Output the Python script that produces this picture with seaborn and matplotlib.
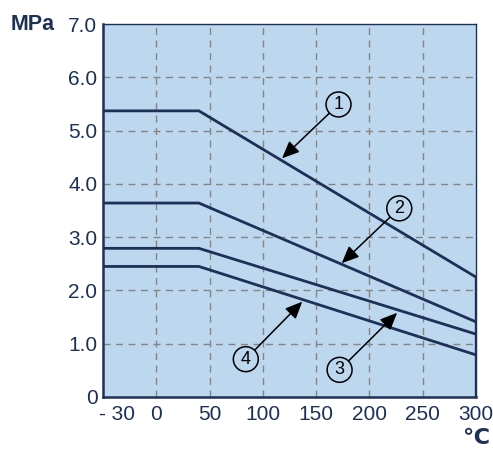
import matplotlib
matplotlib.use("Agg")
import matplotlib.pyplot as plt
import seaborn as sns
import pandas as pd

# data (temperature in deg C, pressure in MPa)
temps = [-50, 40, 300]
curve1 = [5.37, 5.37, 2.25]
curve2 = [3.64, 3.64, 1.41]
curve3 = [2.79, 2.79, 1.18]
curve4 = [2.45, 2.45, 0.79]
curve_names = ["1", "2", "3", "4"]

xtick_pos = [-37, 0, 50, 100, 150, 200, 250, 300]
xtick_labels = ["- 30", "0", "50", "100", "150", "200", "250", "300"]
ytick_pos = [0, 1, 2, 3, 4, 5, 6, 7]
ytick_labels = ["0", "1.0", "2.0", "3.0", "4.0", "5.0", "6.0", "7.0"]
xgrid = [0, 50, 100, 150, 200, 250]
ygrid = [1, 2, 3, 4, 5, 6]

# annotation: label, circle position, arrow tip
ann_labels = ["1", "2", "3", "4"]
ann_text_x = [171, 228, 172, 84]
ann_text_y = [5.49, 3.54, 0.51, 0.71]
ann_tip_x = [118, 174, 226, 137]
ann_tip_y = [4.48, 2.51, 1.58, 1.79]

sns.set_style("white")
plt.rcParams["font.family"] = ["Liberation Sans", "DejaVu Sans"]

navy = "#1D3057"
bg = "#BDD7EE"

rows = []
for name, vals in zip(curve_names, [curve1, curve2, curve3, curve4]):
    for t, v in zip(temps, vals):
        rows.append({"T": t, "P": v, "curve": name})
df = pd.DataFrame(rows)

fig = plt.figure(figsize=(4.93, 4.49), dpi=100)
ax = fig.add_axes([103 / 493, 1 - 397 / 449, 373 / 493, 373 / 449])
ax.set_facecolor(bg)

for y in ygrid:
    ax.axhline(y, color="#858585", lw=1.0, ls=(0, (5, 4)), zorder=1)
for x in xgrid:
    ax.axvline(x, color="#858585", lw=1.0, ls=(0, (5, 4)), zorder=1)

sns.lineplot(data=df, x="T", y="P", units="curve", estimator=None,
             color=navy, lw=2.0, ax=ax, zorder=3, legend=False)
# right end closure
ax.plot([temps[-1], temps[-1]], [0, curve1[-1]], color=navy, lw=2.4, zorder=3,
        solid_capstyle="butt")

ax.set_xlim(-50, 300)
ax.set_ylim(0, 7)
ax.set_xticks(xtick_pos)
ax.set_xticklabels(xtick_labels)
ax.set_yticks(ytick_pos)
ax.set_yticklabels(ytick_labels)
ax.tick_params(length=0, labelsize=15, labelcolor=navy, pad=4)
ax.tick_params(axis="x", pad=6)
ax.set_xlabel("")
ax.set_ylabel("")

for side in ["left", "bottom"]:
    ax.spines[side].set_color(navy)
    ax.spines[side].set_linewidth(1.8)
for side in ["top", "right"]:
    ax.spines[side].set_color(navy)
    ax.spines[side].set_linewidth(1.0)

for lab, tx, ty, px, py in zip(ann_labels, ann_text_x, ann_text_y, ann_tip_x, ann_tip_y):
    ax.annotate(lab, xy=(px, py), xytext=(tx, ty), fontsize=13, color="black",
                ha="center", va="center", zorder=5,
                bbox=dict(boxstyle="circle,pad=0.22", fc="none", ec="black", lw=1.1),
                arrowprops=dict(arrowstyle="-|>,head_length=0.8,head_width=0.35",
                                color="black", lw=1.1, shrinkA=0, shrinkB=0))

fig.text(11 / 493, 1 - 25 / 449, "MPa", fontsize=15.5, fontweight="bold", color=navy,
         ha="left", va="center")
fig.text(489 / 493, 1 - 438 / 449, "℃", fontsize=16, fontweight="bold", color=navy,
         ha="right", va="center", family=["DejaVu Sans"])

fig.savefig("out.png", dpi=100)
